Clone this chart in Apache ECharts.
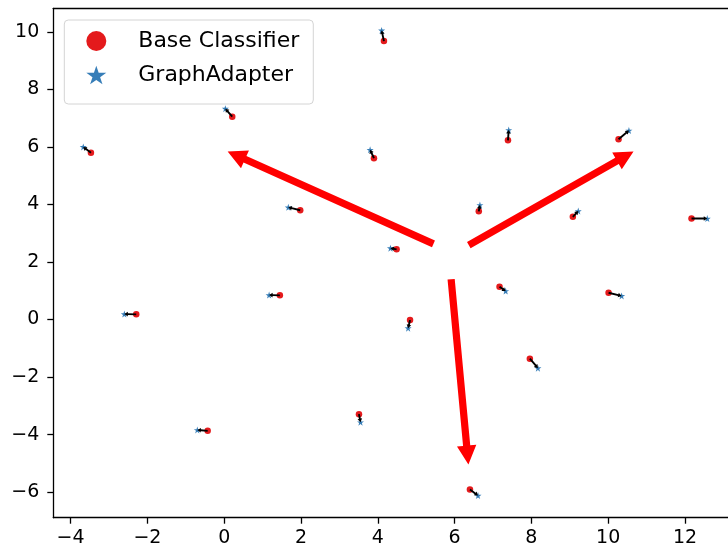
<!DOCTYPE html>
<html>
<head>
<meta charset="utf-8">
<script src="https://cdn.jsdelivr.net/npm/echarts@6/dist/echarts.min.js"></script>
<style>
html,body{margin:0;padding:0;background:#fff;}
#chart{width:728px;height:554px;}
</style>
</head>
<body>
<div id="chart"></div>
<script>
// ---- data ----
const xTicks = [-4, -2, 0, 2, 4, 6, 8, 10, 12];
const yTicks = [-6, -4, -2, 0, 2, 4, 6, 8, 10];

const baseX = [-3.47, 0.21, 1.98, 4.16, 3.90, 7.39, 10.27, 6.63, 9.08, 12.17, 4.49, -2.29, 1.45, -0.43, 3.51, 4.84, 7.17, 10.01, 7.96, 6.40];
const baseY = [5.80, 7.05, 3.80, 9.68, 5.61, 6.23, 6.27, 3.76, 3.57, 3.51, 2.44, 0.18, 0.84, -3.87, -3.29, -0.02, 1.14, 0.93, -1.36, -5.91];
const adapterX = [-3.67, 0.03, 1.67, 4.10, 3.80, 7.41, 10.54, 6.66, 9.22, 12.58, 4.33, -2.60, 1.17, -0.70, 3.55, 4.79, 7.33, 10.35, 8.17, 6.61];
const adapterY = [6.00, 7.33, 3.90, 10.05, 5.90, 6.59, 6.57, 3.98, 3.77, 3.51, 2.48, 0.19, 0.85, -3.84, -3.57, -0.30, 0.99, 0.82, -1.69, -6.12];

const bigArrowX0 = [5.45, 6.37, 5.91];
const bigArrowY0 = [2.63, 2.59, 1.40];
const bigArrowX1 = [0.09, 10.66, 6.36];
const bigArrowY1 = [5.84, 5.84, -5.04];

// ---- chart ----
const starPath = 'path://M50,0 L61.8,35.4 L100,35.4 L69.1,57.3 L80.9,92.7 L50,70.8 L19.1,92.7 L30.9,57.3 L0,35.4 L38.2,35.4 Z';
const minus = v => String(v).replace('-', '\u2212');

function arrowPolygon(p0, p1, sw, hw, hl) {
  const dx = p1[0] - p0[0], dy = p1[1] - p0[1];
  const len = Math.sqrt(dx * dx + dy * dy) || 1;
  const ux = dx / len, uy = dy / len;
  const nx = -uy, ny = ux;
  const bx = p1[0] - ux * hl, by = p1[1] - uy * hl;
  return [
    [p0[0] + nx * sw, p0[1] + ny * sw],
    [bx + nx * sw, by + ny * sw],
    [bx + nx * hw, by + ny * hw],
    [p1[0], p1[1]],
    [bx - nx * hw, by - ny * hw],
    [bx - nx * sw, by - ny * sw],
    [p0[0] - nx * sw, p0[1] - ny * sw]
  ];
}

const chart = echarts.init(document.getElementById('chart'), null, {renderer: 'canvas'});
const axisFont = {fontFamily: 'DejaVu Sans', fontSize: 19, color: '#000'};

chart.setOption({
  animation: false,
  backgroundColor: '#fff',
  grid: {left: 53.3, right: 0, top: 8.3, bottom: 36.3, containLabel: false},
  xAxis: [{
    type: 'value', min: -4.45, max: 13.12,
    axisLine: {show: true, onZero: false, lineStyle: {color: '#000', width: 1.3}},
    axisTick: {show: true, length: 6, lineStyle: {color: '#000', width: 1.3}, customValues: xTicks},
    axisLabel: Object.assign({margin: 11, formatter: minus, customValues: xTicks}, axisFont),
    splitLine: {show: false}
  }, {
    type: 'value', position: 'top', min: -4.45, max: 13.12,
    axisLine: {show: true, onZero: false, lineStyle: {color: '#000', width: 1.3}},
    axisTick: {show: false}, axisLabel: {show: false}, splitLine: {show: false}
  }],
  yAxis: {
    type: 'value', min: -6.89, max: 10.82,
    axisLine: {show: true, onZero: false, lineStyle: {color: '#000', width: 1.3}},
    axisTick: {show: true, length: 6, lineStyle: {color: '#000', width: 1.3}, customValues: yTicks},
    axisLabel: Object.assign({margin: 14, formatter: minus, customValues: yTicks}, axisFont),
    splitLine: {show: false}
  },
  legend: {
    orient: 'vertical', left: 64.3, top: 20,
    padding: [10, 14, 18, 22],
    itemWidth: 20, itemHeight: 20, itemGap: 12,
    borderColor: '#d4d4d4', borderWidth: 1, borderRadius: 4,
    backgroundColor: 'rgba(255,255,255,0.8)',
    textStyle: {fontFamily: 'DejaVu Sans', fontSize: 22, lineHeight: 22, color: '#000', padding: [0, 0, 0, 27]},
    data: [{name: 'Base Classifier', icon: 'circle'}, {name: 'GraphAdapter', icon: starPath}]
  },
  series: [{
    name: 'Base Classifier', type: 'scatter', symbol: 'circle', symbolSize: 6.5,
    itemStyle: {color: '#e41a1c', opacity: 1},
    data: baseX.map((v, i) => [v, baseY[i]]), z: 2, silent: true
  }, {
    name: 'GraphAdapter', type: 'scatter', symbol: starPath, symbolSize: 7,
    itemStyle: {color: '#377eb8', opacity: 1},
    data: adapterX.map((v, i) => [v, adapterY[i]]), z: 3, silent: true
  }, {
    type: 'custom', coordinateSystem: 'cartesian2d', z: 4, silent: true, clip: false,
    data: baseX.map((v, i) => [v, baseY[i], adapterX[i], adapterY[i]]),
    encode: {x: [0, 2], y: [1, 3]},
    renderItem: function (params, api) {
      const p0 = api.coord([api.value(0), api.value(1)]);
      const p1 = api.coord([api.value(2), api.value(3)]);
      return {type: 'polygon', shape: {points: arrowPolygon(p0, p1, 0.95, 2.3, 3.5)}, style: {fill: '#000'}};
    }
  }, {
    type: 'custom', coordinateSystem: 'cartesian2d', z: 10, silent: true, clip: false,
    data: bigArrowX0.map((v, i) => [v, bigArrowY0[i], bigArrowX1[i], bigArrowY1[i]]),
    encode: {x: [0, 2], y: [1, 3]},
    renderItem: function (params, api) {
      const p0 = api.coord([api.value(0), api.value(1)]);
      const p1 = api.coord([api.value(2), api.value(3)]);
      return {type: 'polygon', shape: {points: arrowPolygon(p0, p1, 3.6, 9.7, 19)}, style: {fill: '#ff0000'}};
    }
  }]
});
</script>
</body>
</html>
